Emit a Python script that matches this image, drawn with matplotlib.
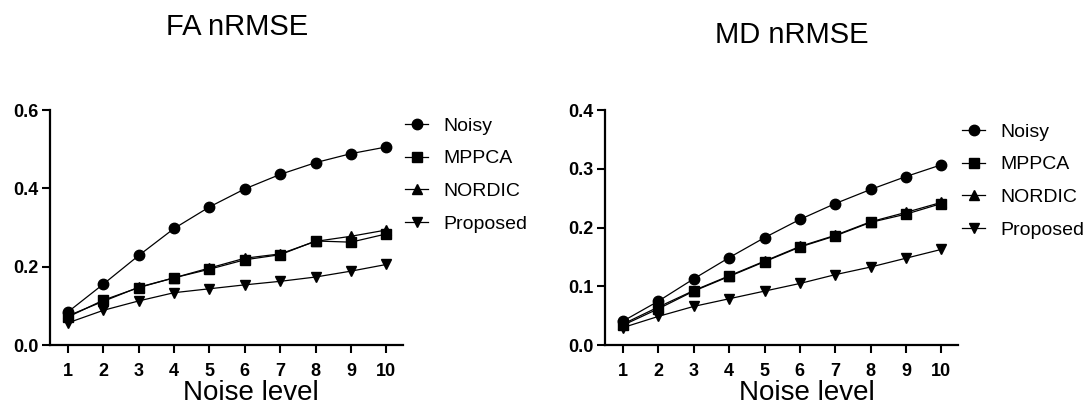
import numpy as np
import matplotlib.pyplot as plt

plt.rcParams['font.family'] = ['Liberation Sans', 'DejaVu Sans']

noise_level = [1, 2, 3, 4, 5, 6, 7, 8, 9, 10]
methods = ['Noisy', 'MPPCA', 'NORDIC', 'Proposed']
markers = ['o', 's', '^', 'v']

# FA nRMSE
fa_noisy = [0.085, 0.156, 0.229, 0.298, 0.353, 0.399, 0.436, 0.466, 0.489, 0.506]
fa_mppca = [0.072, 0.115, 0.147, 0.172, 0.194, 0.218, 0.231, 0.266, 0.263, 0.284]
fa_nordic = [0.075, 0.112, 0.148, 0.172, 0.197, 0.222, 0.233, 0.265, 0.278, 0.294]
fa_proposed = [0.057, 0.089, 0.113, 0.134, 0.144, 0.154, 0.163, 0.174, 0.189, 0.206]

# MD nRMSE
md_noisy = [0.041, 0.075, 0.113, 0.149, 0.183, 0.214, 0.241, 0.265, 0.287, 0.307]
md_mppca = [0.034, 0.062, 0.092, 0.117, 0.142, 0.167, 0.186, 0.209, 0.223, 0.241]
md_nordic = [0.036, 0.065, 0.093, 0.118, 0.143, 0.168, 0.187, 0.210, 0.226, 0.243]
md_proposed = [0.030, 0.049, 0.066, 0.079, 0.092, 0.105, 0.120, 0.133, 0.148, 0.163]

fig = plt.figure(figsize=(10.87, 4.08), dpi=100)
ax1 = fig.add_axes([0.046, 0.154, 0.325, 0.576])
ax2 = fig.add_axes([0.5566, 0.154, 0.325, 0.576])

panels = [
    (ax1, [fa_noisy, fa_mppca, fa_nordic, fa_proposed], 0.6, 0.2, 'FA nRMSE'),
    (ax2, [md_noisy, md_mppca, md_nordic, md_proposed], 0.4, 0.1, 'MD nRMSE'),
]

for ax, series, ymax, ystep, title in panels:
    for vals, m, name in zip(series, markers, methods):
        ax.plot(noise_level, vals, marker=m, color='black', lw=0.9,
                markersize=7.5, label=name)
    ax.set_xlim(0.49, 10.48)
    ax.set_ylim(0, ymax)
    ax.set_yticks(np.arange(0, ymax + 1e-9, ystep))
    ax.set_yticklabels([f'{v:.1f}' for v in np.arange(0, ymax + 1e-9, ystep)])
    ax.set_xticks(noise_level)
    for s in ['top', 'right']:
        ax.spines[s].set_visible(False)
    for s in ['left', 'bottom']:
        ax.spines[s].set_linewidth(1.6)
    ax.tick_params(axis='y', length=6, width=1.5, pad=2, labelsize=13)
    ax.tick_params(axis='x', length=6, width=1.5, pad=7, labelsize=13)
    for lab in ax.get_xticklabels() + ax.get_yticklabels():
        lab.set_fontweight('bold')

leg_kw = dict(loc='upper left', bbox_transform=fig.transFigure, frameon=False,
              fontsize=14, handlelength=1.2, handletextpad=0.75,
              labelspacing=0.78, borderaxespad=0, borderpad=0)
ax1.legend(bbox_to_anchor=(405 / 1087, 1 - 117 / 408), **leg_kw)
ax2.legend(bbox_to_anchor=(962 / 1087, 1 - 123 / 408), **leg_kw)

fig.text(237 / 1087, 1 - 27 / 408, 'FA nRMSE', ha='center', va='center', fontsize=21)
fig.text(792 / 1087, 1 - 35 / 408, 'MD nRMSE', ha='center', va='center', fontsize=21)
fig.text(251 / 1087, 1 - 393 / 408, 'Noise level', ha='center', va='center', fontsize=20)
fig.text(807 / 1087, 1 - 393 / 408, 'Noise level', ha='center', va='center', fontsize=20)

fig.savefig('out.png', dpi=100)
